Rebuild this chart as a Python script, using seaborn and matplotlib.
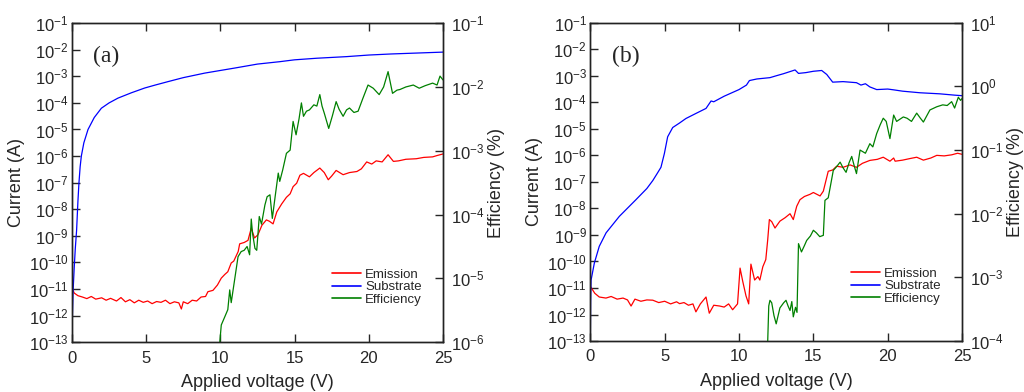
import numpy as np
import matplotlib
matplotlib.use("Agg")
import seaborn as sns
from matplotlib import pyplot as plt
from matplotlib.lines import Line2D
from matplotlib.ticker import FixedLocator, LogFormatterSciNotation, NullLocator

# ---- panel (a): values (log10 of current / efficiency) ----
v_sub_a = [0, 0.03, 0.08, 0.15, 0.22, 0.31, 0.4, 0.47, 0.55, 0.63, 0.8, 1.08, 1.5,
           1.98, 2.5, 3.1, 4.0, 4.9, 5.6, 6.47, 7.5, 8.94, 10.0, 10.96, 12.5, 14.0,
           15.0, 16.5, 18.5, 20.0, 21.5, 23.0, 25.0]
log_sub_a = [-13.0, -12.0, -11.0, -10.2, -9.5, -8.8, -7.7, -7.0, -6.4, -6.0, -5.5,
             -5.0, -4.55, -4.2, -4.0, -3.82, -3.62, -3.44, -3.33, -3.2, -3.05, -2.88,
             -2.78, -2.69, -2.54, -2.45, -2.38, -2.32, -2.26, -2.2, -2.16, -2.13, -2.09]

v_em_a = [0, 0.15, 0.4, 0.7, 1.0, 1.3, 1.6, 2.0, 2.3, 2.6, 3.0, 3.3, 3.6, 3.9, 4.2,
          4.5, 4.8, 5.1, 5.4, 5.7, 6.0, 6.3, 6.6, 6.9, 7.2, 7.37, 7.5, 7.8, 8.1, 8.4,
          8.7, 9.0, 9.16, 9.5, 9.8, 10.06, 10.3, 10.5, 10.73, 10.9, 11.2, 11.3, 11.6,
          11.86, 12.08, 12.3, 12.53, 12.8, 13.1, 13.3, 13.55, 13.8, 14.13, 14.45,
          14.7, 14.9, 15.14, 15.36, 15.6, 16.0, 16.3, 16.7, 17.0, 17.27, 17.5, 17.8,
          18.27, 18.7, 19.2, 19.5, 19.86, 20.2, 20.5, 20.9, 21.3, 21.66, 22.0, 22.5,
          23.2, 23.7, 24.3, 24.6, 25.0]
log_em_a = [-10.96, -11.15, -11.25, -11.3, -11.36, -11.28, -11.38, -11.33, -11.42,
            -11.35, -11.45, -11.32, -11.48, -11.4, -11.52, -11.42, -11.5, -11.45,
            -11.55, -11.47, -11.5, -11.42, -11.55, -11.48, -11.52, -11.75, -11.48,
            -11.55, -11.42, -11.45, -11.3, -11.28, -11.1, -11.05, -10.85, -10.59,
            -10.45, -10.35, -10.02, -9.95, -9.59, -9.3, -9.25, -9.17, -8.71, -9.08,
            -8.96, -8.6, -8.4, -8.45, -8.55, -8.1, -7.8, -7.55, -7.42, -7.15, -7.02,
            -6.72, -6.65, -6.78, -6.62, -6.45, -6.62, -6.89, -6.75, -6.54, -6.7,
            -6.62, -6.58, -6.48, -6.22, -6.3, -6.18, -6.22, -5.95, -6.2, -6.18,
            -6.12, -6.1, -6.05, -6.03, -5.98, -5.92]

v_eff_a = [9.96, 10.06, 10.3, 10.5, 10.63, 10.73, 10.96, 11.19, 11.4, 11.6, 11.8,
           11.97, 12.08, 12.17, 12.33, 12.45, 12.62, 12.77, 13.0, 13.15, 13.34, 13.5,
           13.7, 13.9, 14.0, 14.2, 14.45, 14.7, 14.9, 15.1, 15.3, 15.46, 15.6, 15.8,
           16.0, 16.3, 16.5, 16.7, 16.85, 17.0, 17.3, 17.55, 17.8, 18.0, 18.27, 18.5,
           18.7, 19.0, 19.28, 19.6, 19.95, 20.3, 20.7, 21.0, 21.3, 21.6, 21.9, 22.1,
           22.5, 23.0, 23.4, 23.8, 24.3, 24.6, 24.8, 25.0]
log_eff_a = [-6.0, -5.73, -5.6, -5.49, -5.18, -5.38, -5.02, -4.66, -4.58, -4.56, -4.5,
             -4.63, -4.07, -4.3, -4.53, -4.56, -4.03, -4.15, -3.85, -3.72, -3.69,
             -4.06, -3.7, -3.35, -3.48, -3.3, -3.04, -2.99, -2.54, -2.75, -2.5,
             -2.25, -2.46, -2.38, -2.36, -2.28, -2.3, -2.12, -2.3, -2.41, -2.65,
             -2.45, -2.23, -2.35, -2.46, -2.36, -2.33, -2.4, -2.38, -2.18, -1.97,
             -2.02, -2.12, -2.0, -1.76, -2.1, -2.05, -2.04, -2.0, -1.97, -2.02,
             -1.98, -1.94, -1.97, -1.83, -1.89]

# ---- panel (b) ----
v_sub_b = [0, 0.02, 0.05, 0.27, 0.6, 1.06, 1.95, 3.07, 3.8, 4.2, 4.5, 4.75, 4.98,
           5.2, 5.54, 6.0, 6.43, 7.1, 7.78, 8.12, 8.3, 9.0, 10.0, 10.5, 10.7, 11.2,
           12.08, 12.5, 13.0, 13.77, 14.0, 14.5, 15.0, 15.56, 15.9, 16.3, 17.0, 17.9,
           18.2, 18.5, 18.8, 19.26, 20.0, 20.4, 21.0, 22.17, 23.5, 24.5, 25.0]
log_sub_b = [-13.0, -11.5, -10.7, -10.06, -9.43, -8.92, -8.3, -7.67, -7.25, -6.95,
             -6.68, -6.45, -5.93, -5.3, -4.95, -4.78, -4.61, -4.42, -4.23, -3.95,
             -3.98, -3.77, -3.52, -3.35, -3.18, -3.12, -3.07, -3.0, -2.92, -2.78,
             -2.91, -2.88, -2.83, -2.8, -2.95, -3.24, -3.22, -3.26, -3.35, -3.3,
             -3.42, -3.52, -3.5, -3.53, -3.58, -3.64, -3.68, -3.73, -3.75]

v_em_b = [0, 0.3, 0.6, 1.05, 1.4, 1.8, 2.2, 2.5, 2.74, 3.0, 3.4, 3.8, 4.2, 4.6, 5.0,
          5.4, 5.8, 6.0, 6.3, 6.6, 6.9, 7.1, 7.4, 7.78, 8.0, 8.3, 8.7, 9.0, 9.3, 9.57,
          9.9, 10.07, 10.25, 10.47, 10.65, 10.8, 11.05, 11.27, 11.4, 11.6, 11.8,
          11.93, 12.04, 12.2, 12.42, 12.75, 13.1, 13.43, 13.65, 13.88, 14.1, 14.4,
          14.77, 15.0, 15.45, 15.67, 16.0, 16.3, 16.57, 17.0, 17.47, 17.9, 18.3,
          18.8, 19.3, 19.7, 20.15, 20.4, 20.5, 21.0, 21.5, 21.95, 22.4, 22.9, 23.3,
          23.8, 24.3, 24.7, 25.0]
log_em_b = [-10.94, -11.2, -11.34, -11.38, -11.32, -11.42, -11.38, -11.45, -11.68,
            -11.42, -11.5, -11.45, -11.46, -11.55, -11.5, -11.6, -11.52, -11.59,
            -11.55, -11.65, -11.6, -11.9, -11.6, -11.34, -11.95, -11.65, -11.68,
            -11.72, -11.6, -11.82, -11.6, -10.25, -10.75, -11.3, -11.6, -10.1,
            -10.7, -10.57, -10.7, -10.2, -9.93, -9.18, -8.42, -8.5, -8.74, -8.48,
            -8.35, -8.2, -8.42, -7.92, -7.67, -7.55, -7.47, -7.4, -7.53, -7.35,
            -6.6, -6.55, -6.41, -6.45, -6.36, -6.45, -6.3, -6.19, -6.15, -6.07,
            -6.22, -6.1, -6.22, -6.18, -6.12, -6.07, -6.18, -6.1, -6.0, -6.02,
            -5.98, -5.92, -5.96]

v_eff_b = [11.93, 12.0, 12.08, 12.2, 12.35, 12.5, 12.75, 13.0, 13.16, 13.3, 13.43,
           13.55, 13.65, 13.8, 13.9, 14.0, 14.2, 14.4, 14.55, 14.8, 15.0, 15.2,
           15.43, 15.67, 15.78, 16.0, 16.12, 16.34, 16.6, 16.8, 17.0, 17.2, 17.4,
           17.58, 17.75, 17.9, 18.14, 18.5, 18.8, 19.0, 19.26, 19.5, 19.7, 19.9,
           20.15, 20.4, 20.6, 21.05, 21.3, 21.6, 21.95, 22.2, 22.4, 22.84, 23.3,
           23.7, 24.0, 24.3, 24.5, 24.75, 24.9, 25.0]
log_eff_b = [-4.0, -3.45, -3.36, -3.4, -3.6, -3.73, -3.48, -3.4, -3.36, -3.45, -3.52,
             -3.38, -3.62, -3.47, -3.55, -2.47, -2.6, -2.5, -2.42, -2.35, -2.26,
             -2.3, -2.36, -2.34, -1.79, -1.75, -1.6, -1.32, -1.25, -1.19, -1.28,
             -1.35, -1.2, -1.1, -1.25, -1.37, -1.0, -1.05, -0.9, -0.95, -0.74, -0.6,
             -0.5, -0.55, -0.82, -0.45, -0.55, -0.48, -0.5, -0.55, -0.42, -0.5,
             -0.56, -0.37, -0.32, -0.29, -0.3, -0.24, -0.34, -0.17, -0.22, -0.19]

x_ticks = [0, 5, 10, 15, 20, 25]
series_labels = ["Emission", "Substrate", "Efficiency"]
panel_tags = ["(a)", "(b)"]

sns.set_style("ticks")
plt.rcParams["font.family"] = ["Liberation Sans", "DejaVu Sans"]
plt.rcParams["axes.linewidth"] = 1.0

RED, BLUE, GREEN = "#ff0000", "#0000ff", "#008000"


def style_log_axis(ax, lo, hi, side):
    ax.set_yscale("log")
    ax.set_ylim(10.0 ** lo, 10.0 ** hi)
    ax.yaxis.set_major_locator(FixedLocator(10.0 ** np.arange(lo, hi + 1)))
    ax.yaxis.set_major_formatter(LogFormatterSciNotation())
    ax.yaxis.set_minor_locator(NullLocator())
    ax.tick_params(axis="y", direction="in", length=6, width=1, labelsize=12,
                   pad=2.5 if side == "left" else 6,
                   left=(side == "left"), right=(side == "right"),
                   labelleft=(side == "left"), labelright=(side == "right"))


def draw_panel(ax, v_em, log_em, v_sub, log_sub, v_eff, log_eff, eff_lim, tag):
    sns.lineplot(x=v_em, y=10.0 ** np.array(log_em), ax=ax, color=RED, lw=0.9)
    sns.lineplot(x=v_sub, y=10.0 ** np.array(log_sub), ax=ax, color=BLUE, lw=0.9)
    style_log_axis(ax, -13, -1, "left")
    ax.set_xlim(0, 25)
    ax.set_xticks(x_ticks)
    ax.tick_params(axis="x", direction="in", length=6, width=1, labelsize=12,
                   top=True, pad=6)
    ax.set_xlabel("Applied voltage (V)", fontsize=13)
    ax.set_ylabel("Current (A)", fontsize=13)
    ax.yaxis.set_label_coords(-0.127, 0.5)
    ax.xaxis.set_label_coords(0.5, -0.1)

    ax2 = ax.twinx()
    sns.lineplot(x=v_eff, y=10.0 ** np.array(log_eff), ax=ax2, color=GREEN, lw=0.9)
    style_log_axis(ax2, eff_lim[0], eff_lim[1], "right")
    ax2.set_ylabel("Efficiency (%)", fontsize=13)
    ax2.yaxis.set_label_coords(1.12, 0.5)
    ax2.set_xlim(0, 25)

    for a in (ax, ax2):
        for s in a.spines.values():
            s.set_visible(True)
            s.set_color("#222222")

    ax.text(0.057, 0.895, tag, transform=ax.transAxes, fontsize=17,
            family="Liberation Serif", va="center", ha="left")

    handles = [Line2D([], [], color=c, lw=1.2) for c in (RED, BLUE, GREEN)]
    ax2.legend(handles, series_labels, loc="upper left", bbox_to_anchor=(0.70, 0.23),
               frameon=False, fontsize=9.5, handlelength=2.2, handletextpad=0.35,
               labelspacing=0.0, borderaxespad=0, borderpad=0)


fig = plt.figure(figsize=(10.24, 3.92), dpi=100)
ax_a = fig.add_axes([0.0703, 0.127, 0.3623, 0.814])
ax_b = fig.add_axes([0.5765, 0.13, 0.363, 0.812])

draw_panel(ax_a, v_em_a, log_em_a, v_sub_a, log_sub_a, v_eff_a, log_eff_a, (-6, -1),
           panel_tags[0])
draw_panel(ax_b, v_em_b, log_em_b, v_sub_b, log_sub_b, v_eff_b, log_eff_b, (-4, 1),
           panel_tags[1])

fig.savefig("out.png", dpi=100)
